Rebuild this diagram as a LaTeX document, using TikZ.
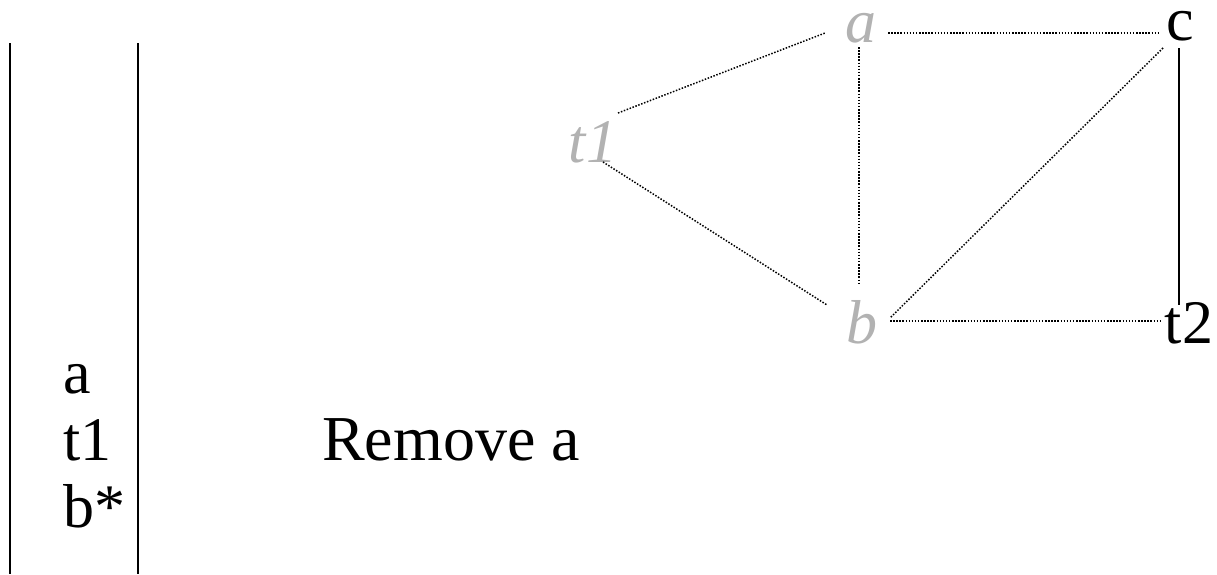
\documentclass[tikz,border=0pt]{standalone}
\usepackage{fontspec}
\setmainfont{Liberation Serif}
\usetikzlibrary{calc}
\definecolor{ghost}{RGB}{178,178,178}
\tikzset{
  lbl/.style={inner sep=0pt, anchor=base, font=\fontsize{62}{74}\selectfont},
  gone/.style={lbl, text=ghost, font=\fontsize{62}{74}\selectfont\itshape},
  kept/.style={lbl, text=black},
  dotedge/.style={line width=1.5pt, dash pattern=on 1.5pt off 1.6pt, black},
  solidedge/.style={line width=1.5pt, black},
  bar/.style={line width=1.5pt, black}
}
\begin{document}
\begin{tikzpicture}[x=1pt, y=-1pt]
\useasboundingbox (0,0) rectangle (1217,574);
% stack
\coordinate (l1) at (10,43);
\coordinate (l2) at (10,574);
\coordinate (r1) at (138,43);
\coordinate (r2) at (138,574);
\draw[bar] (l1) -- (l2);
\draw[bar] (r1) -- (r2);
\node[lbl, anchor=base west] (sa) at (63,393) {a};
\node[lbl, anchor=base west] (st) at (63,460) {t1};
\node[lbl, anchor=base west] (sb) at (63,527) {b*};
\node[lbl, anchor=base west, font=\fontsize{64}{74}\selectfont] (msg) at (322,460) {Remove a};
% graph
\node[gone] (a) at (861,42) {a};
\node[kept] (c) at (1180,40) {c};
\node[gone] (t1) at (593,162) {t1};
\node[gone] (b) at (862,343) {b};
\node[kept] (t2) at (1189,343) {t2};
\draw[dotedge] ($(a.base)+(27,-9)$) -- ($(c.base)+(-20,-7)$);
\draw[dotedge] ($(a.base)+(-2,5)$) -- ($(b.base)+(-3,-58)$);
\draw[dotedge] ($(t1.base)+(25,-49)$) -- ($(a.base)+(-36,-9)$);
\draw[dotedge] ($(t1.base)+(10,0)$) -- ($(b.base)+(-35,-38)$);
\draw[dotedge] ($(c.base)+(-17,8)$) -- ($(b.base)+(28,-25)$);
\draw[solidedge] ($(c.base)+(-1,8)$) -- ($(t2.base)+(-10,-38)$);
\draw[dotedge] ($(b.base)+(28,-22)$) -- ($(t2.base)+(-29,-22)$);
\end{tikzpicture}
\end{document}
